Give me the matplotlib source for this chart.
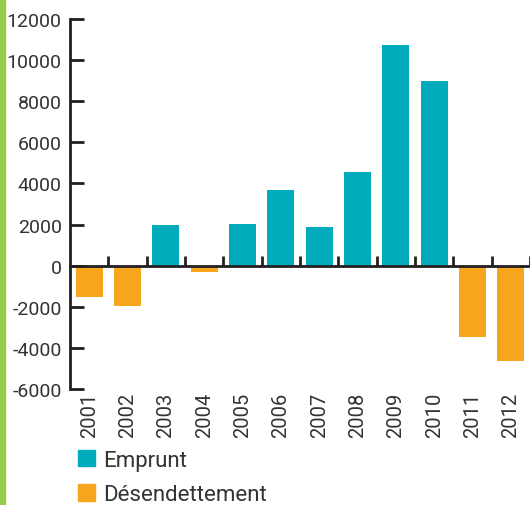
import numpy as np
import matplotlib
matplotlib.use('Agg')
import matplotlib.pyplot as plt
import matplotlib.patches as mpatches
import matplotlib.transforms as mtransforms

annees = ['2001', '2002', '2003', '2004', '2005', '2006',
          '2007', '2008', '2009', '2010', '2011', '2012']
valeurs = [-1530, -1950, 1980, -300, 2010, 3660,
           1870, 4580, 10740, 9000, -3450, -4620]

teal = '#00abbb'
orange = '#f8a51e'
gris = '#231f20'
texte = '#333333'

plt.rcParams['font.family'] = ['Roboto', 'DejaVu Sans']
plt.rcParams['axes.unicode_minus'] = False

fig = plt.figure(figsize=(5.3, 5.06), dpi=100)
ax = fig.add_axes([70/530, 1 - 390/506, 1 - 70/530, 370/506])

x = np.arange(len(annees))
couleurs = [teal if v > 0 else orange for v in valeurs]
ax.bar(x, valeurs, width=0.7, color=couleurs, zorder=1)

ax.set_xlim(-0.5, len(annees) - 0.5)
ax.set_ylim(-6000, 12000)
ax.set_yticks(np.arange(-6000, 12001, 2000))
ax.tick_params(axis='y', direction='in', length=10, width=2, color=gris,
               labelsize=14, labelcolor=texte, pad=6)

# axe des x sur zéro, graduations entre les barres
ax.spines['bottom'].set_position(('data', 0))
ax.spines['bottom'].set_linewidth(2)
ax.spines['bottom'].set_color(gris)
ax.spines['bottom'].set_zorder(3)
ax.spines['left'].set_linewidth(2)
ax.spines['left'].set_color(gris)
ax.spines['top'].set_visible(False)
ax.spines['right'].set_visible(False)
ax.set_xticks(x)
ax.set_xticklabels([])
ax.tick_params(axis='x', which='major', length=0)
ax.set_xticks(np.arange(0.5, len(annees) - 0.4, 1), minor=True)
ax.tick_params(axis='x', which='minor', direction='in', length=7, width=2, color=gris)

trans = mtransforms.blended_transform_factory(ax.transData, ax.transAxes)
for i, a in enumerate(annees):
    ax.text(i, -0.008, a, rotation=90, ha='center', va='top', transform=trans,
            fontsize=14.5, color=texte)

# bande verte à gauche
fig.patches.append(mpatches.Rectangle((0, 0), 5/530, 1, transform=fig.transFigure,
                                      color='#95cf4a', zorder=0))

handles = [mpatches.Patch(color=teal, label='Emprunt'),
           mpatches.Patch(color=orange, label='Désendettement')]
leg = fig.legend(handles=handles, loc='upper left', bbox_to_anchor=(78/530, 1 - 451/506),
                 frameon=False, fontsize=16, handlelength=0.75, handleheight=0.75,
                 handletextpad=0.4, labelspacing=0.6, borderpad=0, borderaxespad=0)
for t in leg.get_texts():
    t.set_color(texte)

fig.savefig('out.png', dpi=100)
